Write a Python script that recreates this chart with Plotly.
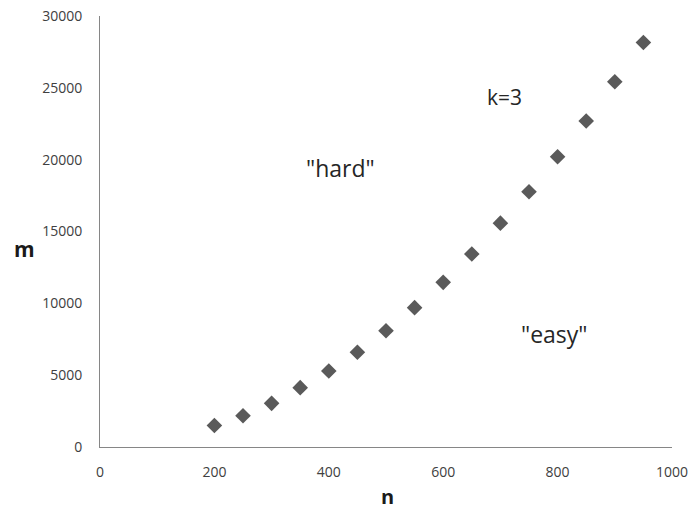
import plotly.graph_objects as go

n_vals = [200, 250, 300, 350, 400, 450, 500, 550, 600, 650, 700, 750, 800, 850, 900, 950]
m_vals = [1500, 2180, 3040, 4130, 5290, 6590, 8090, 9700, 11460, 13430, 15580, 17770, 20200, 22690, 25420, 28160]

x_ticks = [0, 200, 400, 600, 800, 1000]
y_ticks = [0, 5000, 10000, 15000, 20000, 25000, 30000]

labels = ["k=3", '"hard"', '"easy"']
label_sizes = [21, 23, 23]
label_x = [708, 420, 795]
label_y = [24360, 19420, 7900]

FONT = "Open Sans"
TICK_COLOR = "#404040"

L, R, T, B = 100, 19, 16, 66
W, H = 691, 513
PW, PH = W - L - R, H - T - B


def px_to_paper(px, py):
    return (px - L) / PW, (H - B - py) / PH


fig = go.Figure()
fig.add_trace(go.Scatter(
    x=n_vals, y=m_vals, mode="markers",
    marker=dict(symbol="diamond", size=12, color="#5a5a5a", line=dict(width=0)),
    showlegend=False,
))

for t, s, x, y in zip(labels, label_sizes, label_x, label_y):
    fig.add_annotation(x=x, y=y, xref="x", yref="y", text=t, showarrow=False,
                       xanchor="center", yanchor="middle",
                       font=dict(family=FONT, size=s, color="#262626"))

mx, my = px_to_paper(24, 249)
fig.add_annotation(x=mx, y=my, xref="paper", yref="paper",
                   text="<b>m</b>", showarrow=False, xanchor="center", yanchor="middle",
                   font=dict(family=FONT, size=21, color="#1a1a1a"))
nx, ny = px_to_paper(387, 497)
fig.add_annotation(x=nx, y=ny, xref="paper", yref="paper",
                   text="<b>n</b>", showarrow=False, xanchor="center", yanchor="middle",
                   borderpad=0,
                   font=dict(family=FONT, size=20, color="#1a1a1a"))

axis_common = dict(showgrid=False, zeroline=False, showline=True, linecolor="#868686",
                   linewidth=1, ticks="", automargin=False, tickformat="d",
                   ticklabeloverflow="allow",
                   tickfont=dict(family=FONT, size=14, color=TICK_COLOR))

fig.update_layout(
    template="none",
    width=W, height=H,
    margin=dict(l=L, r=R, t=T, b=B),
    paper_bgcolor="white", plot_bgcolor="white",
    font=dict(family=FONT, size=14, color=TICK_COLOR),
    xaxis=dict(range=[0, 1000], tickvals=x_ticks, ticklabelstandoff=12, **axis_common),
    yaxis=dict(range=[0, 30000], tickvals=y_ticks, ticklabelstandoff=14, **axis_common),
)

fig.write_html("out.html", config={"displayModeBar": False},
               post_script="document.body.style.margin='0';")
